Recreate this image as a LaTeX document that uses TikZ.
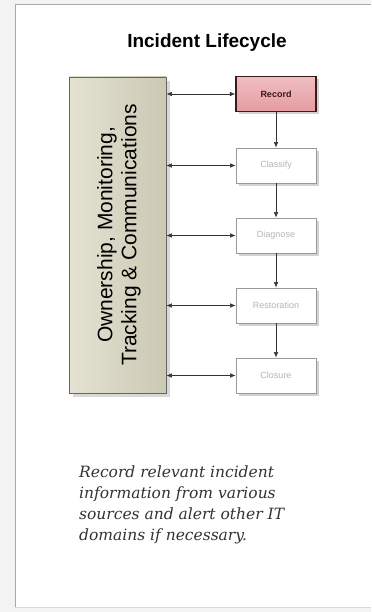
\documentclass[tikz,border=0pt]{standalone}
\usepackage{fontspec}
\setmainfont{Liberation Sans}
\newfontfamily\captionfont{DejaVu Serif}
\usetikzlibrary{shadows,arrows.meta}
\definecolor{pagebg}{HTML}{F3F3F3}
\definecolor{framegray}{HTML}{A8A8A8}
\definecolor{beigelight}{HTML}{E4E2D2}
\definecolor{beigedark}{HTML}{CBC9B4}
\definecolor{recordfill}{HTML}{E49CA0}
\definecolor{recordtop}{HTML}{F0BFC1}
\definecolor{recordedge}{HTML}{3A1A1A}
\definecolor{stepedge}{HTML}{9A9A9A}
\definecolor{steptext}{HTML}{B4B4B4}
\tikzset{
  stagebox/.style={draw=stepedge, line width=0.8pt, fill=white,
    minimum width=80pt, minimum height=35pt, inner sep=0pt,
    font=\fontsize{9}{11}\selectfont, text=steptext,
    drop shadow={shadow xshift=3pt, shadow yshift=-3pt, opacity=0.35, fill=gray}},
  recordbox/.style={stagebox, draw=recordedge, line width=1.4pt,
    top color=recordtop, bottom color=recordfill, text=recordedge,
    font=\fontsize{9}{11}\selectfont\bfseries},
  ownerbox/.style={draw=black!60, line width=0.8pt,
    left color=beigelight, right color=beigedark,
    minimum width=97pt, minimum height=316pt, inner sep=0pt,
    drop shadow={shadow xshift=4pt, shadow yshift=-4pt, opacity=0.3, fill=gray}},
  link/.style={line width=0.6pt, draw=black!80, {Latex[length=5.5pt,width=4.5pt]}-{Latex[length=5.5pt,width=4.5pt]}},
  flow/.style={line width=0.6pt, draw=black!80, -{Latex[length=5.5pt,width=4.5pt]}}
}
\begin{document}
\begin{tikzpicture}[x=1pt,y=-1pt]
  % canvas and page frame
  \fill[pagebg] (0,0) rectangle (371,612);
  \fill[white] (15,5) rectangle (371,607);
  \draw[framegray, line width=1pt] (371,5) -- (15,5) -- (15,607);
  \draw[black!15, line width=0.8pt] (15,607) -- (371,607);
  \useasboundingbox (0,0) rectangle (371,612);

  % title
  \node[font=\fontsize{19}{22}\selectfont\bfseries] (title) at (207,43) {Incident Lifecycle};

  % ownership column
  \node[ownerbox] (owner) at (117.5,235) {};
  \node[rotate=90, align=center, font=\fontsize{21}{24}\selectfont] (ownertext) at (119,235)
    {Ownership, Monitoring,\\Tracking \& Communications};

  % lifecycle stages
  \node[recordbox] (record) at (276,94) {Record};
  \node[stagebox] (classify) at (276,165.5) {Classify};
  \node[stagebox] (diagnose) at (276,235.5) {Diagnose};
  \node[stagebox] (restoration) at (276,305.5) {Restoration};
  \node[stagebox] (closure) at (276,375.5) {Closure};

  % stage flow
  \draw[flow] (record) -- (classify);
  \draw[flow] (classify) -- (diagnose);
  \draw[flow] (diagnose) -- (restoration);
  \draw[flow] (restoration) -- (closure);

  % ownership links
  \foreach \s in {record,classify,diagnose,restoration,closure}
    \draw[link] (owner.east |- \s.west) -- (\s.west);

  % description
  \node[anchor=north west, align=left, inner sep=0pt,
        font=\captionfont\itshape\fontsize{15.5}{21}\selectfont, text=black!80] (caption) at (79,466)
    {Record relevant incident\\information from various\\sources and alert other IT\\domains if necessary.};
\end{tikzpicture}
\end{document}
